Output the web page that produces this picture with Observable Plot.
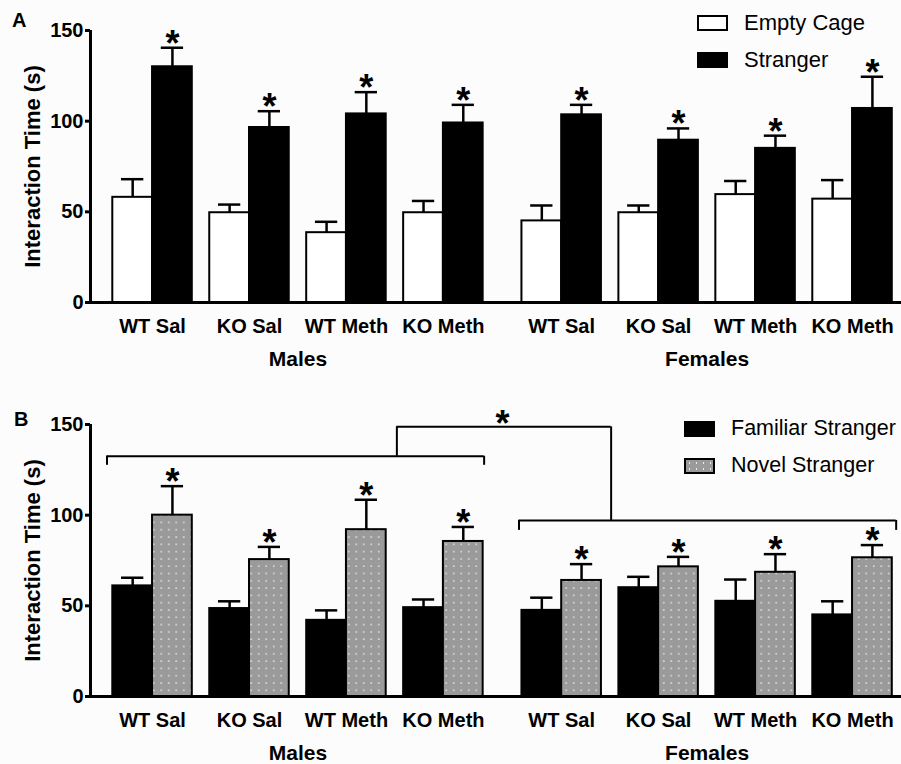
<!DOCTYPE html>
<html>
<head>
<meta charset="utf-8">
<script src="https://cdn.jsdelivr.net/npm/d3@7"></script>
<script src="https://cdn.jsdelivr.net/npm/@observablehq/plot@0.6"></script>
<style>
  body { margin: 0; background: #ffffff; }
  #wrap { position: relative; width: 901px; height: 764px; background: #fcfcfc; overflow: hidden;
          font-family: "Liberation Sans", Arial, sans-serif; }
  .panel { position: absolute; left: 0; }
  .plabel { position: absolute; font-weight: bold; font-size: 20px; line-height: 1; }
  .legend { position: absolute; font-size: 22px; white-space: nowrap; }
  .item { display: flex; align-items: center; height: 37px; }
  .sw { width: 31px; height: 16px; box-sizing: border-box; margin-right: 16px; flex: none; }
  .sw.empty { background: #fff; border: 2px solid #000; }
  .sw.black { background: #000; }
  .sw.dots { background-color: #9a9a9a; border: 2px solid #000;
             background-image: radial-gradient(#ececec 0.7px, transparent 1.1px); background-size: 7px 6px; }
  g[aria-label="y-axis tick"] { stroke-width: 3px; }
  g[aria-label="y-axis"] line { stroke-width: 3px; }
</style>
</head>
<body>
<div id="wrap">
  <div class="plabel" style="left:12px;top:10px;">A</div>
  <div class="plabel" style="left:14px;top:409px;">B</div>
  <div id="panelA" class="panel" style="top:0px;"></div>
  <div id="panelB" class="panel" style="top:380px;"></div>
  <div class="legend" style="left:697px;top:4px;">
    <div class="item"><span class="sw empty"></span>Empty Cage</div>
    <div class="item"><span class="sw black"></span>Stranger</div>
  </div>
  <div class="legend" style="left:684px;top:410px;font-size:21.5px;">
    <div class="item"><span class="sw black"></span>Familiar Stranger</div>
    <div class="item"><span class="sw dots"></span>Novel Stranger</div>
  </div>
</div>
<script>
// ---------------- data ----------------
const sexes = ["Males", "Females"];
const treatments = ["WT Sal", "KO Sal", "WT Meth", "KO Meth"];

// Panel A: Empty Cage vs Stranger (mean, SEM), order: Males x4, Females x4
const emptyCageMean = [58, 49.5, 38.5, 49.5, 45, 49.5, 59.5, 57];
const emptyCageSem  = [10, 4.5, 6, 6.5, 8.5, 4, 7.5, 10.5];
const strangerMean  = [130, 96.5, 104, 99, 103.5, 89.5, 85, 107];
const strangerSem   = [10.5, 9, 12, 10, 5.5, 6.5, 7, 17.5];

// Panel B: Familiar Stranger vs Novel Stranger (mean, SEM)
const familiarMean = [61, 48.5, 42, 49, 47.5, 60, 52.5, 45];
const familiarSem  = [4.5, 4, 5.5, 4.5, 7, 6, 12, 7.5];
const novelMean    = [100, 75.5, 92, 85.5, 64, 71.5, 68.5, 76.5];
const novelSem     = [16, 7, 16.5, 8, 9, 5.5, 10, 7];

const yTicks = [0, 50, 100, 150];

// Panel B significance bracket segments (x in group units, y in seconds)
const bracketH = [
  {x1: -0.47, x2: 3.42, y: 132.5},
  {x1: 2.52, x2: 4.73, y: 148.7},
  {x1: 3.78, x2: 7.67, y: 97.1}
];
const bracketV = [
  {x: -0.47, y1: 127.5, y2: 132.5},
  {x: 3.42, y1: 127.5, y2: 132.5},
  {x: 2.52, y1: 132.5, y2: 148.7},
  {x: 4.73, y1: 97.1, y2: 148.7},
  {x: 3.78, y1: 91.6, y2: 97.1},
  {x: 7.67, y1: 91.6, y2: 97.1}
];
const bracketStar = [{x: 3.61, y: 148.7}];

// ---------------- layout helpers ----------------
const sexGap = 0.22;        // extra space between Males and Females
const bw = 0.41;            // bar width (group units)
const capHalf = 0.115;      // error-bar cap half-width
const xDomain = [-0.64, 7.725];

function rows(m1, s1, m2, s2) {
  return sexes.flatMap((sex, si) => treatments.map((t, ti) => {
    const i = si * 4 + ti;
    const c = i + (si ? sexGap : 0);
    return {sex, treatment: t, c, m1: m1[i], s1: s1[i], m2: m2[i], s2: s2[i]};
  }));
}
const sexLabels = sexes.map((sex, si) => ({sex, c: si * 4 + 1.5 + (si ? sexGap : 0)}));

const font = '"Liberation Sans", Arial, sans-serif';

function panel(data, opts) {
  const {height, marginTop, marginBottom, fill1, stroke1, fill2, stroke2, extra = []} = opts;
  return Plot.plot({
    width: 901, height, marginLeft: 90, marginRight: 0, marginTop, marginBottom,
    style: {fontFamily: font, fontSize: "20px", fontWeight: "bold", background: "transparent", color: "#000"},
    x: {domain: xDomain, axis: null},
    y: {domain: [0, 150], ticks: yTicks, tickSize: 5, tickPadding: 2, label: null},
    marks: [
      Plot.rectY(data, {x1: d => d.c - bw, x2: d => d.c, y1: 0, y2: "m1", fill: fill1, stroke: stroke1, strokeWidth: 2}),
      Plot.rectY(data, {x1: d => d.c, x2: d => d.c + bw, y1: 0, y2: "m2", fill: fill2, stroke: stroke2, strokeWidth: 2}),
      // error bars series 1
      Plot.ruleX(data, {x: d => d.c - bw / 2, y1: "m1", y2: d => d.m1 + d.s1, strokeWidth: 2.5}),
      Plot.ruleY(data, {x1: d => d.c - bw / 2 - capHalf, x2: d => d.c - bw / 2 + capHalf, y: d => d.m1 + d.s1, strokeWidth: 2.5}),
      // error bars series 2
      Plot.ruleX(data, {x: d => d.c + bw / 2, y1: "m2", y2: d => d.m2 + d.s2, strokeWidth: 2.5}),
      Plot.ruleY(data, {x1: d => d.c + bw / 2 - capHalf, x2: d => d.c + bw / 2 + capHalf, y: d => d.m2 + d.s2, strokeWidth: 2.5}),
      // significance stars
      Plot.text(data, {x: d => d.c + bw / 2, y: d => d.m2 + d.s2, text: () => "*", fontSize: 36, fontWeight: "bold", lineAnchor: "bottom", dy: 8}),
      ...extra,
      // axes lines
      Plot.ruleY([0], {strokeWidth: 3}),
      Plot.ruleX([xDomain[0]], {strokeWidth: 3}),
      // category labels
      Plot.text(data, {x: "c", text: "treatment", frameAnchor: "bottom", lineAnchor: "top", dy: 16, fontSize: 20, fontWeight: "bold"}),
      Plot.text(sexLabels, {x: "c", text: "sex", frameAnchor: "bottom", lineAnchor: "top", dy: 49, fontSize: 21, fontWeight: "bold"}),
      Plot.text(["Interaction Time (s)"], {frameAnchor: "left", rotate: -90, dx: -58, fontSize: 22, fontWeight: "bold", textAnchor: "middle", lineAnchor: "middle"})
    ]
  });
}

const dataA = rows(emptyCageMean, emptyCageSem, strangerMean, strangerSem);
const dataB = rows(familiarMean, familiarSem, novelMean, novelSem);

const plotA = panel(dataA, {height: 380, marginTop: 30, marginBottom: 78, fill1: "white", stroke1: "black", fill2: "black", stroke2: "black"});
document.getElementById("panelA").append(plotA);

const plotB = panel(dataB, {
  height: 384, marginTop: 44, marginBottom: 68,
  fill1: "black", stroke1: "black", fill2: "url(#dotsB)", stroke2: "black",
  extra: [
    Plot.ruleY(bracketH, {x1: "x1", x2: "x2", y: "y", strokeWidth: 2}),
    Plot.ruleX(bracketV, {x: "x", y1: "y1", y2: "y2", strokeWidth: 2}),
    Plot.text(bracketStar, {x: "x", y: "y", text: () => "*", fontSize: 36, fontWeight: "bold", lineAnchor: "bottom", dy: 9})
  ]
});
document.getElementById("panelB").append(plotB);

// dotted pattern for the Novel Stranger bars
const svgB = plotB.tagName.toLowerCase() === "svg" ? plotB : plotB.querySelector("svg");
const defs = d3.select(svgB).insert("defs", ":first-child");
const pat = defs.append("pattern").attr("id", "dotsB").attr("patternUnits", "userSpaceOnUse")
  .attr("width", 7.5).attr("height", 7.3);
pat.append("rect").attr("width", 7.5).attr("height", 7.3).attr("fill", "#9a9a9a");
pat.append("rect").attr("x", 3).attr("y", 3).attr("width", 1.5).attr("height", 1.5).attr("fill", "#e6e6e6");
</script>
</body>
</html>
